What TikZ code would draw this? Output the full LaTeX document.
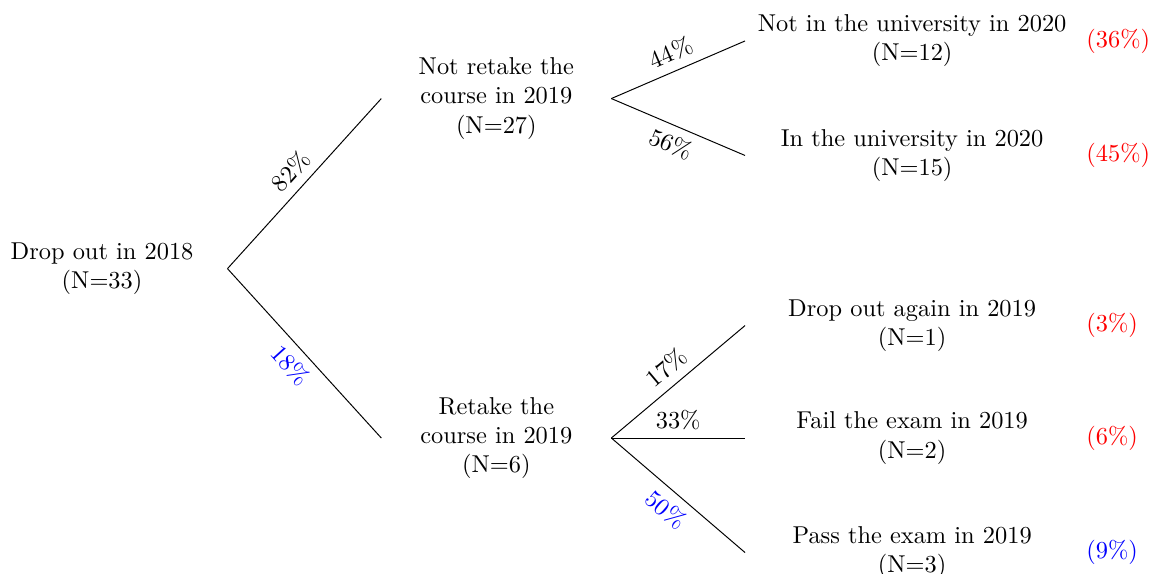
\documentclass[tikz,border=0pt]{standalone}
\usetikzlibrary{positioning}
\begin{document}
\begin{tikzpicture}[
  stage/.style={align=center, minimum width=#1},
  share/.style={text=#1},
  lbl/.style={midway, sloped}]
\useasboundingbox (0,0) rectangle (16.61,8.26);
\node[stage=3.6cm] (root) at (1.47,4.39) {Drop out in 2018\\(N=33)};
\node[stage=3.3cm] (nr) at (7.15,6.84) {Not retake the\\course in 2019\\(N=27)};
\node[stage=3.3cm] (rt) at (7.15,1.95) {Retake the\\course in 2019\\(N=6)};
\foreach \n/\y/\txt/\k/\p/\c in {a/7.67/Not in the university in 2020/12/36/red,
  b/6.02/In the university in 2020/15/45/red,
  c/3.57/Drop out again in 2019/1/3/red,
  d/1.95/Fail the exam in 2019/2/6/red,
  e/0.30/Pass the exam in 2019/3/9/blue} {
  \node[stage=4.8cm] (\n) at (13.14,\y) {\txt\\(N=\k)};
  \node[share=\c, right=-0.02cm of \n] (p\n) {(\p\%)};
}
\draw (root.east) -- node[lbl, above] {82\%} (nr.west);
\draw (root.east) -- node[lbl, below, blue] {18\%} (rt.west);
\draw (nr.east) -- node[lbl, above] {44\%} (a.west);
\draw (nr.east) -- node[lbl, below] {56\%} (b.west);
\draw (rt.east) -- node[lbl, above] {17\%} (c.west);
\draw (rt.east) -- node[lbl, above] {33\%} (d.west);
\draw (rt.east) -- node[lbl, below, blue] {50\%} (e.west);
\end{tikzpicture}
\end{document}
